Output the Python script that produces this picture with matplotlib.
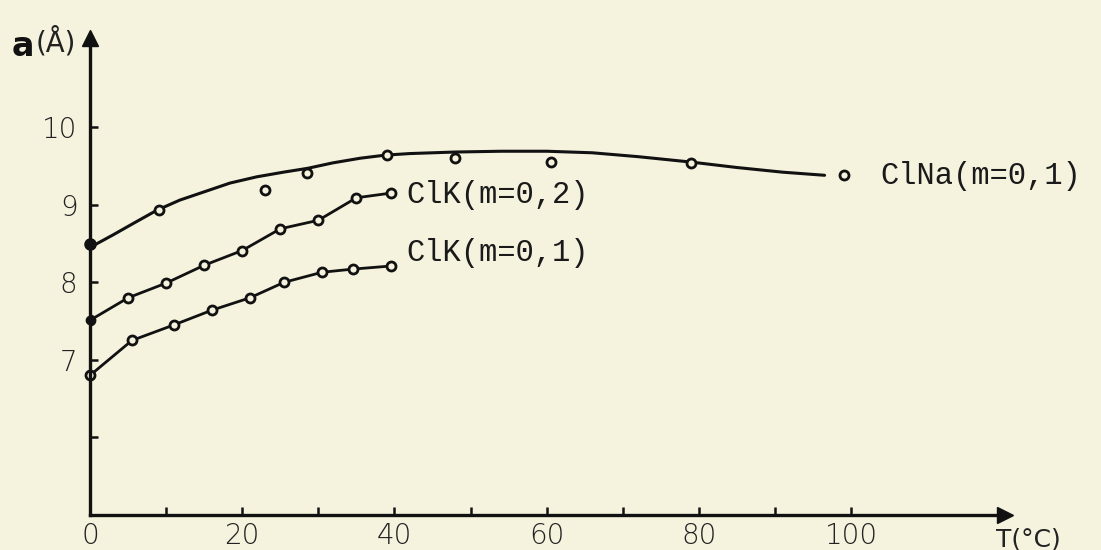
import matplotlib
matplotlib.use("Agg")
import matplotlib.pyplot as plt

# ---------------- data ----------------
clna_T = [0, 9, 23, 28.5, 39, 48, 60.5, 79, 99]
clna_a = [8.50, 8.93, 9.19, 9.41, 9.64, 9.60, 9.55, 9.54, 9.39]
# drawn smooth curve for ClNa (hand-drawn fit line, sampled along the drawing)
clna_curve_T = [0, 3, 5.7, 8.8, 11.8, 14.8, 18.4, 21.9, 25.4, 28.6, 31.9, 35.5, 38.8,
                42, 48, 54, 60, 66, 72, 79, 85, 91, 96.5]
clna_curve_a = [8.45, 8.61, 8.76, 8.93, 9.06, 9.16, 9.28, 9.36, 9.42, 9.47, 9.54, 9.60, 9.64,
                9.66, 9.68, 9.69, 9.69, 9.67, 9.62, 9.55, 9.48, 9.42, 9.38]

clk2_T = [0, 5, 10, 15, 20, 25, 30, 35, 39.5]
clk2_a = [7.51, 7.80, 7.99, 8.22, 8.41, 8.69, 8.80, 9.09, 9.15]

clk1_T = [0, 5.5, 11, 16, 21, 25.5, 30.5, 34.5, 39.5]
clk1_a = [6.80, 7.25, 7.45, 7.64, 7.80, 8.00, 8.13, 8.17, 8.21]

x_ticks = [0, 10, 20, 30, 40, 50, 60, 70, 80, 90, 100]
x_ticklabels = ["0", "", "20", "", "40", "", "60", "", "80", "", "100"]
y_ticks = [6, 7, 8, 9, 10]
y_ticklabels = ["", "7", "8", "9", "10"]

labels = ["ClNa(m=0,1)", "ClK(m=0,2)", "ClK(m=0,1)"]

# ---------------- style ----------------
BG = "#f5f2de"
INK = "#111111"
W, H = 1101, 550

fig = plt.figure(figsize=(W / 100, H / 100), dpi=100, facecolor=BG)
ax = fig.add_axes([90 / W, 35 / H, (1005 - 90) / W, (515 - 38) / H])
ax.set_facecolor(BG)
ax.set_xlim(0, 120.2)
ax.set_ylim(5, 11.15)

for s in ["top", "right"]:
    ax.spines[s].set_visible(False)
for s in ["left", "bottom"]:
    ax.spines[s].set_linewidth(2.4)
    ax.spines[s].set_color(INK)

# arrow heads
ax.plot([0], [1], marker="^", ms=11, color=INK, transform=ax.transAxes, clip_on=False)
ax.plot([1], [0], marker=">", ms=11, color=INK, transform=ax.transAxes, clip_on=False)

ax.set_xticks(x_ticks)
ax.set_xticklabels(x_ticklabels)
ax.set_yticks(y_ticks)
ax.set_yticklabels(y_ticklabels)
ax.tick_params(direction="in", length=6, width=1.8, color=INK, labelcolor="#222222",
               labelsize=20)
ax.tick_params(axis="x", pad=5)
ax.tick_params(axis="y", pad=9)
for t in ax.get_xticklabels() + ax.get_yticklabels():
    t.set_fontfamily("DejaVu Sans")
    t.set_fontweight("light")

mk = dict(marker="o", ms=6.5, mec=INK, mfc=BG, mew=2.0)

# ClNa: smooth curve + points
ax.plot(clna_curve_T, clna_curve_a, color=INK, lw=2.2, solid_capstyle="round",
        solid_joinstyle="round", zorder=2)
ax.plot(clna_T, clna_a, ls="none", zorder=3, **mk)
ax.plot(clna_T[:1], clna_a[:1], ls="none", marker="o", ms=8, mec=INK, mfc=INK, zorder=4,
        clip_on=False)

# ClK(m=0,2)
ax.plot(clk2_T, clk2_a, color=INK, lw=2.0, zorder=2, solid_joinstyle="round", **mk)
ax.plot(clk2_T[:1], clk2_a[:1], ls="none", marker="o", ms=6, mec=INK, mfc=INK, zorder=4,
        clip_on=False)

# ClK(m=0,1)
ax.plot(clk1_T, clk1_a, color=INK, lw=2.0, zorder=2, clip_on=False,
        solid_joinstyle="round", **mk)

# series labels (typewriter style)
tw = dict(fontfamily="Liberation Mono", fontsize=22, color="#1a1a1a", va="center", ha="left")
ax.text(103.8, 9.37, labels[0], **tw)
ax.text(41.6, 9.13, labels[1], **tw)
ax.text(41.6, 8.38, labels[2], **tw)

# axis titles
fig.text(12 / W, 1 - 46 / H, "a", fontsize=24, fontweight="bold", color=INK,
         va="center", ha="left", fontfamily="DejaVu Sans")
fig.text(36 / W, 1 - 42 / H, "(Å)", fontsize=20, color="#222222", va="center", ha="left",
         fontfamily="DejaVu Sans")
fig.text(996 / W, 1 - 539 / H, "T(°C)", fontsize=18, color="#222222", va="center",
         ha="left", fontfamily="DejaVu Sans")

fig.savefig("out.png", dpi=100, facecolor=BG)
